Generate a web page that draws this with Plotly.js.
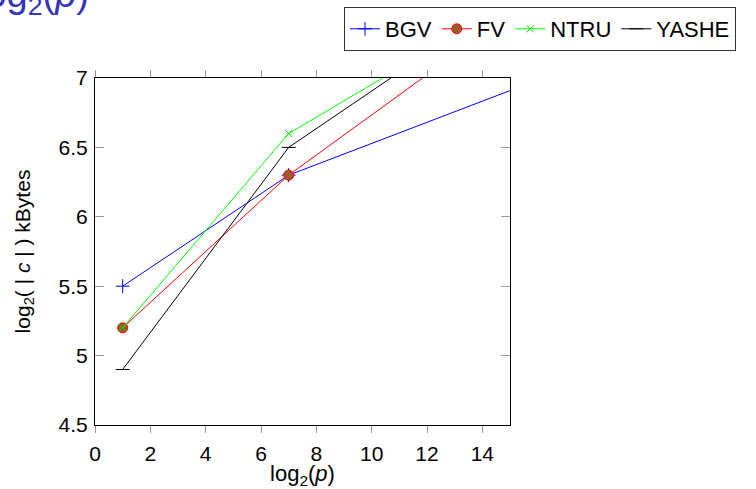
<!DOCTYPE html>
<html>
<head>
<meta charset="utf-8">
<script src="https://cdn.plot.ly/plotly-3.0.1.min.js"></script>
<style>body{margin:0;padding:0;background:#fff}#chart{width:756px;height:489px}</style>
</head>
<body>
<div id="chart"></div>
<script>
// data (log2(p) vs log2(|c|) kBytes)
const seriesNames = ["BGV", "FV", "NTRU", "YASHE"];
const xBGV = [1, 7, 20];
const yBGV = [5.5, 6.3, 7.29];
const xFV = [1, 7, 20];
const yFV = [5.2, 6.3, 8.18];
const xNTRU = [1, 7, 20];
const yNTRU = [5.2, 6.6, 8.13];
const xYASHE = [1, 7, 20];
const yYASHE = [4.9, 6.5, 8.26];
const xTickVals = [0, 2, 4, 6, 8, 10, 12, 14];
const yTickVals = [4.5, 5, 5.5, 6, 6.5, 7];

const FONT = "Liberation Sans, Arial, Helvetica, sans-serif";

const traces = [
  {x: xBGV, y: yBGV, name: seriesNames[0], mode: "lines+markers",
   line: {color: "#0000ff", width: 1},
   marker: {symbol: "cross-thin-open", size: 10, color: "#0000ff", line: {color: "#0000ff", width: 1}}},
  {x: xFV, y: yFV, name: seriesNames[1], mode: "lines+markers",
   line: {color: "#ff0000", width: 1},
   marker: {symbol: "circle", size: 10, color: "#9a5a2a", line: {color: "#ff0000", width: 1}}},
  {x: xNTRU, y: yNTRU, name: seriesNames[2], mode: "lines+markers",
   line: {color: "#00ff00", width: 1},
   marker: {symbol: "x-thin-open", size: 7, color: "#00dd00", line: {color: "#00dd00", width: 1}}},
  {x: xYASHE, y: yYASHE, name: seriesNames[3], mode: "lines+markers",
   line: {color: "#000000", width: 1},
   marker: {symbol: "line-ew-open", size: 10, color: "#000000", line: {color: "#000000", width: 1}}}
];

const layout = {
  width: 756, height: 489,
  margin: {l: 95, r: 246, t: 78, b: 64, pad: 0, autoexpand: false},
  paper_bgcolor: "#ffffff", plot_bgcolor: "#ffffff",
  font: {family: FONT, size: 20, color: "#000"},
  showlegend: true,
  legend: {
    orientation: "h", x: 0.6, xanchor: "left", y: 1.2046, yanchor: "top",
    bordercolor: "#333", borderwidth: 1, font: {family: FONT, size: 22, color: "#000"},
    bgcolor: "#fff", itemwidth: 30, tracegroupgap: 0
  },
  xaxis: {
    range: [0, 15], tickvals: xTickVals, ticktext: xTickVals.map(String),
    showgrid: false, zeroline: false, showline: true, linecolor: "#000", linewidth: 1,
    mirror: "ticks", ticks: "outside", ticklen: 7, tickcolor: "#999", tickwidth: 1,
    tickfont: {family: FONT, size: 21}, ticklabelstandoff: 3,
    title: {text: "log<sub>2</sub>(<i>p</i>)", font: {family: FONT, size: 22}, standoff: 0}
  },
  yaxis: {
    range: [4.5, 7], tickvals: yTickVals, ticktext: yTickVals.map(String),
    showgrid: false, zeroline: false, showline: true, linecolor: "#000", linewidth: 1,
    mirror: "ticks", ticks: "inside", ticklen: 9, tickcolor: "#999", tickwidth: 1,
    tickfont: {family: FONT, size: 21}, ticklabelstandoff: 2,
    title: {text: "log<sub>2</sub>( | <i>c</i> | ) kBytes", font: {family: FONT, size: 21}, standoff: 22}
  },
  annotations: [{
    text: "log<sub>2</sub>(<i>p</i>)", xref: "paper", yref: "paper",
    x: -0.0096, y: 1.159, xanchor: "right", yanchor: "bottom", showarrow: false,
    font: {family: FONT, size: 38, color: "#3333bb"}
  }]
};

Plotly.newPlot("chart", traces, layout, {displayModeBar: false, staticPlot: true});
</script>
</body>
</html>
